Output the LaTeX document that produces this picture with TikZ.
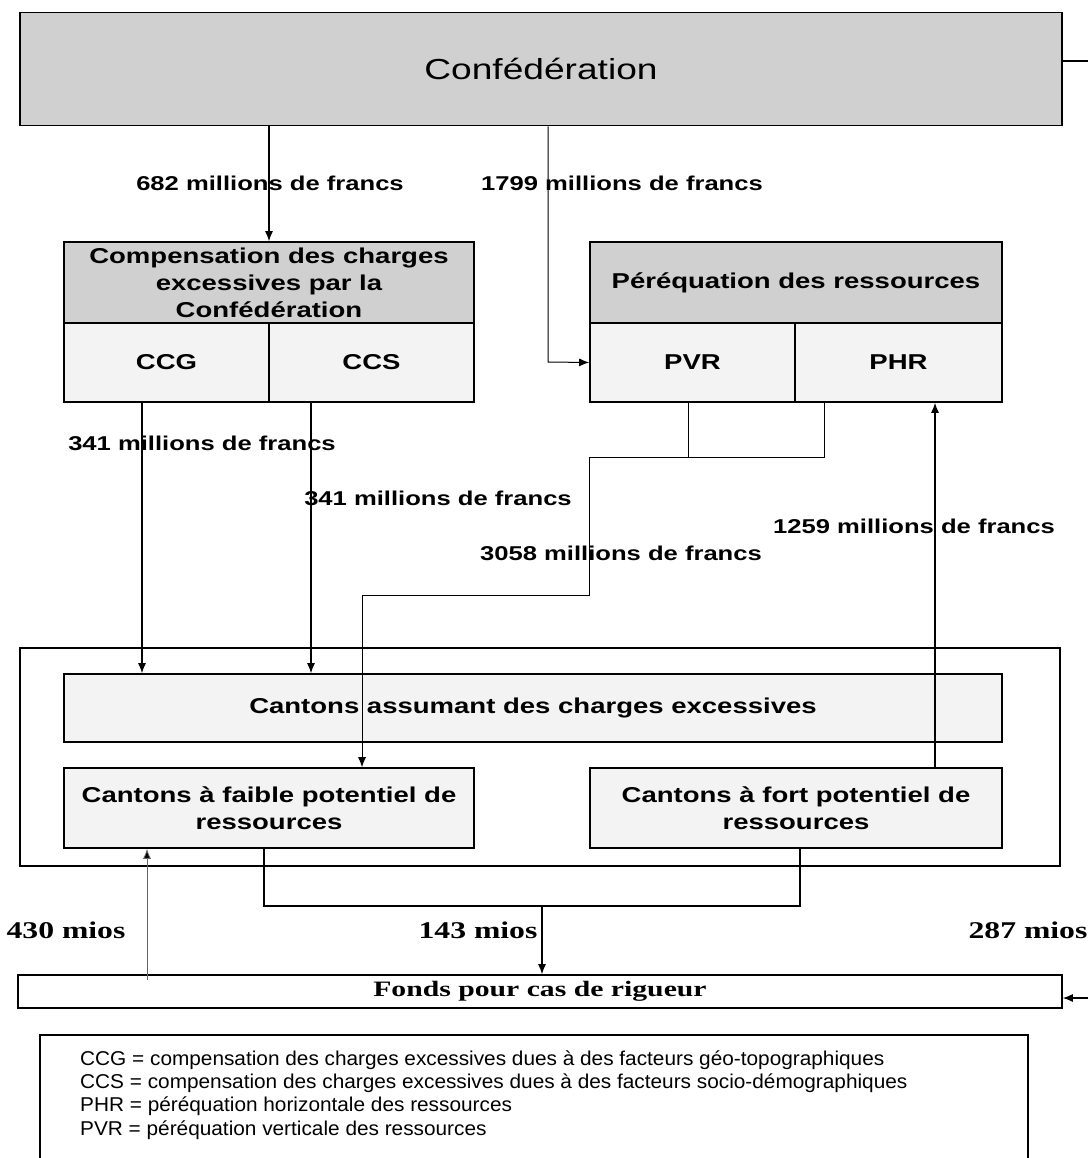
\documentclass[tikz,border=0pt]{standalone}
\usepackage{fontspec}
\usetikzlibrary{arrows.meta}
\newfontfamily\arl[FakeStretch=1.28]{Liberation Sans}
\newfontfamily\tms[FakeStretch=1.32]{Liberation Serif}
\newfontfamily\tmf[FakeStretch=1.35]{Liberation Serif}
\newfontfamily\nrw[FakeStretch=1.04]{Liberation Sans}
\definecolor{hdr}{HTML}{D0D0D0}
\definecolor{cell}{HTML}{F3F3F3}
\tikzset{
  bx/.style={draw=black, line width=1.6pt, minimum width=#1, inner sep=0pt, align=center},
  lbl/.style={font=\arl\fontsize{20}{22}\selectfont\bfseries, inner sep=0pt},
  slbl/.style={font=\tms\fontsize{24}{26}\selectfont\bfseries, inner sep=0pt},
  btxt/.style={font=\arl\fontsize{21.5}{27}\selectfont\bfseries},
  arr/.style={line width=1.2pt, -{Latex[length=10pt,width=8pt]}},
  ln/.style={line width=1.2pt},
}
\begin{document}
\begin{tikzpicture}[x=1pt,y=-1pt]
\useasboundingbox (0,0) rectangle (1088,1158);
\begin{scope}
\clip (0,0) rectangle (1088,1158);
% boxes
\node[bx=1042pt, minimum height=113pt, fill=hdr, font=\arl\fontsize{29}{31}\selectfont] (conf) at (541,69) {Confédération};
\node[bx=410pt, minimum height=81pt, fill=hdr, btxt] (comp) at (269,282.5) {Compensation des charges\\excessives par la\\Confédération};
\node[bx=205pt, minimum height=79pt, fill=cell, btxt] (ccg) at (166.5,362.5) {CCG};
\node[bx=205pt, minimum height=79pt, fill=cell, btxt] (ccs) at (371.5,362.5) {CCS};
\node[bx=412pt, minimum height=81pt, fill=hdr, btxt] (per) at (796,282.5) {Péréquation des ressources};
\node[bx=205pt, minimum height=79pt, fill=cell, btxt] (pvr) at (692.5,362.5) {PVR};
\node[bx=207pt, minimum height=79pt, fill=cell, btxt] (phr) at (898.5,362.5) {PHR};
\node[bx=1040pt, minimum height=218pt] (outer) at (540,757) {};
\node[bx=938pt, minimum height=68pt, fill=cell, btxt] (assum) at (533,708) {Cantons assumant des charges excessives};
\node[bx=410pt, minimum height=80pt, fill=cell, btxt] (faible) at (269,808) {Cantons à faible potentiel de\\ressources};
\node[bx=412pt, minimum height=80pt, fill=cell, btxt] (fort) at (796,808) {Cantons à fort potentiel de\\ressources};
\node[bx=1044pt, minimum height=33pt, font=\tmf\fontsize{22}{24}\selectfont\bfseries] (fonds) at (540,991.5) {Fonds pour cas de rigueur};
\node[draw=black, line width=1.6pt, minimum width=988pt, minimum height=140pt, inner sep=0pt] (leg) at (534,1105) {};
% legend text
\node[anchor=west, inner sep=0pt, font=\nrw\fontsize{20}{23.3}\selectfont, align=left] (legtxt) at (80,1095)
 {CCG = compensation des charges excessives dues à des facteurs géo-topographiques\\
  CCS = compensation des charges excessives dues à des facteurs socio-démographiques\\
  PHR = péréquation horizontale des ressources\\
  PVR = péréquation verticale des ressources};
% coordinates
\coordinate (xa) at (142,0);
\coordinate (xb) at (311,0);
\coordinate (p1) at (548,362);
\coordinate (j1) at (688,457);
\coordinate (j2) at (824,457);
\coordinate (j3) at (589,457);
\coordinate (j4) at (589,595);
\coordinate (j5) at (362,595);
\coordinate (xf) at (935,0);
\coordinate (b1) at (264,906);
\coordinate (b2) at (800,906);
\coordinate (b3) at (542,906);
\coordinate (g1) at (147,980);
\coordinate (s1) at (1088,61);
\coordinate (s2) at (1088,998);
% connectors
\draw[arr] (conf.south -| comp.north) -- (comp.north);
\draw[arr, line width=1pt] (conf.south -| p1) -- (p1) -- (pvr.west);
\draw[arr] (ccg.south -| xa) -- (assum.north -| xa);
\draw[arr] (ccs.south -| xb) -- (assum.north -| xb);
\draw[ln, line width=1pt] (pvr.south -| j1) -- (j1) -- (j2) -- (phr.south -| j2);
\draw[arr, line width=1pt] (j1) -- (j3) -- (j4) -- (j5) -- (faible.north -| j5);
\draw[arr] (fort.north -| xf) -- (phr.south -| xf);
\draw[ln, line width=1.5pt] (faible.south -| b1) -- (b1) -- (b2) -- (fort.south -| b2);
\draw[arr] (b3) -- (fonds.north -| b3);
\draw[line width=0.8pt, draw=black!60, -{Latex[length=10pt,width=8pt,fill=black]}] (g1) -- (faible.south -| g1);
\draw[ln] (conf.east |- s1) -- (s1);
\draw[arr] (s2) -- (fonds.east |- s2);
\end{scope}
% labels
\node[lbl] (l682) at (270,183) {682 millions de francs};
\node[lbl] (l1799) at (622,183) {1799 millions de francs};
\node[lbl] (l341a) at (202,443) {341 millions de francs};
\node[lbl] (l341b) at (438,498) {341 millions de francs};
\node[lbl] (l3058) at (621,553) {3058 millions de francs};
\node[lbl] (l1259) at (914,526) {1259 millions de francs};
\node[slbl] (l430) at (66,930) {430 mios};
\node[slbl] (l143) at (478,930) {143 mios};
\node[slbl] (l287) at (1028,930) {287 mios};
\end{tikzpicture}
\end{document}
